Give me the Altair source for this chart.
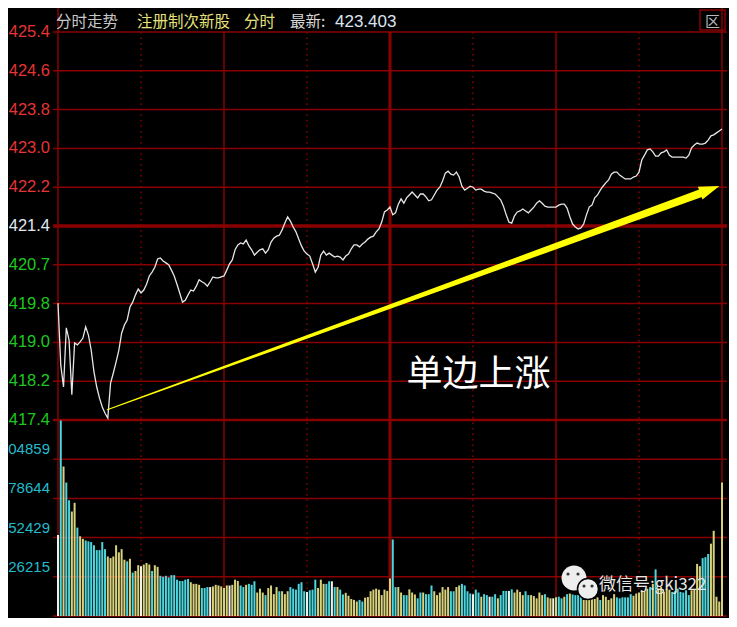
import altair as alt
import pandas as pd

# ---------------- data ----------------
price = [
    419.81, 418.53, 418.08, 419.30, 419.05, 417.92, 418.99, 418.95, 419.01, 419.09,
    419.32, 419.15, 418.84, 418.39, 418.08, 417.85, 417.67, 417.54, 417.44, 418.16,
    418.37, 418.60, 418.84, 419.19, 419.36, 419.46, 419.73, 419.83, 419.98, 420.10,
    420.02, 420.08, 420.20, 420.37, 420.45, 420.55, 420.72, 420.74, 420.68, 420.64,
    420.60, 420.49, 420.37, 420.20, 420.02, 419.83, 419.87, 419.98, 420.08, 420.06,
    420.16, 420.29, 420.25, 420.22, 420.16, 420.25, 420.35, 420.33, 420.33, 420.35,
    420.37, 420.49, 420.62, 420.70, 420.91, 421.01, 421.05, 421.03, 421.11, 420.99,
    420.91, 420.80, 420.86, 420.91, 420.93, 420.84, 420.91, 421.07, 421.15, 421.19,
    421.21, 421.32, 421.46, 421.59, 421.50, 421.38, 421.28, 421.13, 420.99, 420.88,
    420.82, 420.78, 420.62, 420.45, 420.55, 420.80, 420.88, 420.80, 420.84, 420.80,
    420.76, 420.78, 420.76, 420.70, 420.78, 420.82, 420.93, 421.01, 421.01, 420.97,
    421.03, 421.07, 421.13, 421.17, 421.19, 421.28, 421.34, 421.48, 421.69, 421.73,
    421.79, 421.63, 421.67, 421.85, 421.96, 421.87, 421.98, 422.04, 422.10, 422.04,
    421.98, 422.06, 422.06, 422.00, 421.92, 421.94, 422.04, 422.14, 422.20, 422.33,
    422.49, 422.53, 422.47, 422.45, 422.51, 422.41, 422.22, 422.14, 422.18, 422.22,
    422.20, 422.14, 422.16, 422.16, 422.12, 422.10, 422.10, 422.08, 422.06, 422.00,
    421.94, 421.81, 421.63, 421.48, 421.46, 421.61, 421.69, 421.71, 421.75, 421.71,
    421.67, 421.73, 421.79, 421.87, 421.92, 421.87, 421.81, 421.79, 421.79, 421.79,
    421.79, 421.83, 421.85, 421.85, 421.77, 421.59, 421.44, 421.38, 421.34, 421.36,
    421.44, 421.63, 421.79, 421.83, 421.98, 422.04, 422.14, 422.22, 422.29, 422.35,
    422.47, 422.51, 422.51, 422.45, 422.41, 422.37, 422.37, 422.37, 422.41, 422.43,
    422.51, 422.76, 422.86, 422.97, 422.99, 422.93, 422.84, 422.84, 422.91, 422.93,
    422.97, 422.86, 422.82, 422.82, 422.82, 422.82, 422.82, 422.80, 422.86, 423.01,
    423.07, 423.11, 423.09, 423.09, 423.11, 423.17, 423.26, 423.28, 423.32, 423.36,
    423.40,
]

volume = [
    54180, 130720, 99975, 89225, 77400, 69875, 75680, 59125, 53320, 51600,
    50525, 49880, 49450, 47300, 44075, 44075, 49450, 44720, 39775, 38700,
    39775, 47300, 42570, 44720, 37625, 36550, 38270, 29025, 30100, 33970,
    33325, 34400, 35475, 34400, 30100, 33970, 32895, 26875, 26230, 26875,
    25800, 27305, 27305, 24295, 23435, 23435, 24295, 24725, 22575, 21500,
    21500, 20855, 18705, 18705, 19350, 19350, 19780, 20855, 20425, 19780,
    18705, 20425, 20425, 20855, 24295, 23435, 20425, 19350, 20855, 21500,
    20855, 23220, 15695, 18275, 15695, 13975, 18705, 20425, 14620, 19350,
    16555, 16555, 14620, 16555, 19350, 18275, 17630, 21500, 22575, 16555,
    16125, 17200, 17630, 24295, 18705, 24295, 21500, 21500, 23220, 23220,
    19350, 19350, 17630, 14405, 15480, 13545, 11395, 10750, 9675, 10750,
    9675, 12255, 12685, 16555, 17630, 18275, 17630, 13975, 17630, 16770,
    25155, 51170, 19350, 19350, 15695, 13975, 13975, 17845, 15695, 14405,
    11825, 15695, 15695, 14620, 14620, 20425, 16555, 13975, 15695, 19350,
    17630, 19350, 16555, 16555, 19350, 20425, 21500, 20425, 16555, 15050,
    14620, 17630, 15695, 12900, 14620, 13975, 12900, 12900, 14620, 11825,
    13975, 16770, 16770, 16770, 17845, 15695, 17630, 16125, 13975, 16555,
    13975, 13975, 13330, 11825, 15695, 13975, 14620, 12470, 11825, 11825,
    12470, 12900, 11825, 12900, 14620, 15050, 14405, 13975, 13975, 13975,
    10750, 10750, 10750, 11825, 11395, 12470, 10750, 13975, 12900, 10750,
    11825, 14620, 12470, 11825, 12470, 12470, 12470, 14620, 13545, 15050,
    15695, 17200, 16125, 18275, 19350, 21500, 31175, 18275, 19350, 16125,
    18275, 17630, 16125, 16555, 18275, 16125, 15695, 17200, 13975, 17200,
    17630, 34830, 33325, 38700, 39345, 41495, 48375, 56975, 12900, 9675,
    89225,
]

# c = cyan bar, y = yellow bar, w = white bar
bar_side = list(
    "wcyccyycyy" "ccccccccyy" "yyyyycycyy" "wyyycyyccc" "ccccccccyy"
    "yycccwyyyy" "yywyyyccyc" "ccyyycyyyy" "cyyycccccc" "wcccyyyccw"
    "cyccyyyyyc" "cyyyyyyyyy" "yccyyccyyy" "ccycccyyyy" "yyccyycccc"
    "wccyccwccy" "cccwcyyyyc" "cyyyyycyyw" "yccycycccc" "yyyyyycyyy"
    "yyccccccyy" "yyyycycyyy" "yycccccccy" "yyycccyyyy" "y"
)
minutes = list(range(len(price)))
assert len(price) == len(volume) == len(bar_side) == 241

price_ticks = [425.4, 424.6, 423.8, 423.0, 422.2, 421.4, 420.6, 419.8, 419.0, 418.2, 417.4]
price_tick_labels = ["425.4", "424.6", "423.8", "423.0", "422.2", "421.4",
                     "420.7", "419.8", "419.0", "418.2", "417.4"]
prev_close = 421.4
vol_grid = [0, 26214.4, 52428.8, 78643.2, 104857.6, 131072]
vol_label_values = [26214.4, 52428.8, 78643.2, 104857.6]
vol_tick_labels = ["26215", "52429", "78644", "04859"]   # as visible (left digit cut off in the source)
time_dotted = [30, 90, 150, 210]
time_solid = [60, 180]
time_center = [120]
time_border = [0, 240]

header_parts = ["分时走势", "注册制次新股", "分时", "最新:"]
latest_price = 423.403
annotation_text = ["单边上涨"]
annotation_minute = [152]
annotation_price = [418.33]
arrow_minutes = [17.8, 232.5]
arrow_prices = [417.61, 422.08]
arrow_tip_minute = [235.6]
arrow_tip_price = [422.15]
watermark = ["微信号:gkj322"]
close_glyph = ["区"]

# ---------------- styling / layout ----------------
W, PH, VH = 674, 388, 196
GRID = "#8a0000"
CYAN, YEL, WHITE = "#4dd6de", "#d9d27c", "#f2f2e4"
RED_TXT, MID_TXT, GREEN_TXT, VOL_TXT = "#e43434", "#e2e8f0", "#1ec81e", "#22bccc"
CJK = "Noto Sans CJK SC"
NUM = "Liberation Sans"

xs = alt.Scale(domain=[0, 240], range=[0, W], nice=False, zero=False)
yp = alt.Scale(domain=[417.4, 425.4], range=[PH, 0], nice=False, zero=False)
yv = alt.Scale(domain=[0, 131072], range=[PH + VH, PH], nice=False, zero=False)


def X(field="m"):
    return alt.X(f"{field}:Q", scale=xs, axis=None)


def YP(field="p"):
    return alt.Y(f"{field}:Q", scale=yp, axis=None)


def YV(field="v"):
    return alt.Y(f"{field}:Q", scale=yv, axis=None)


one = pd.DataFrame({"a": [0]})
df = pd.DataFrame({"m": minutes, "p": price, "v": volume, "s": bar_side})

df_pt = pd.DataFrame({"p": price_ticks, "lab": price_tick_labels})
df_pt["col"] = [RED_TXT if p > prev_close + 1e-9 else (MID_TXT if abs(p - prev_close) < 1e-9 else GREEN_TXT)
                for p in price_ticks]

price_grid = alt.Chart(df_pt).mark_rule(color=GRID, strokeWidth=1.5).encode(y=YP())
mid_line = alt.Chart(pd.DataFrame({"p": [prev_close]})).mark_rule(color=GRID, strokeWidth=3.5).encode(y=YP())
bottom_line = alt.Chart(pd.DataFrame({"p": [price_ticks[-1]]})).mark_rule(color=GRID, strokeWidth=2.5).encode(y=YP())
vol_lines = alt.Chart(pd.DataFrame({"v": vol_grid})).mark_rule(color=GRID, strokeWidth=1.5).encode(y=YV())

v_dot = alt.Chart(pd.DataFrame({"m": time_dotted})).mark_rule(
    color=GRID, strokeWidth=1.5, strokeDash=[1.5, 4]).encode(x=X())
v_solid = alt.Chart(pd.DataFrame({"m": time_solid})).mark_rule(color=GRID, strokeWidth=1.5).encode(x=X())
v_center = alt.Chart(pd.DataFrame({"m": time_center})).mark_rule(color=GRID, strokeWidth=3).encode(x=X())
v_border = alt.Chart(pd.DataFrame({"m": time_border})).mark_rule(color=GRID, strokeWidth=1.5).encode(
    x=X(), y=alt.value(-24), y2=alt.value(PH + VH))

bars = alt.Chart(df).mark_bar(size=2).encode(
    x=X(), y=YV(),
    color=alt.Color("s:N", scale=alt.Scale(domain=["c", "y", "w"], range=[CYAN, YEL, WHITE]), legend=None),
)
line = alt.Chart(df).mark_line(color="#e6e6e6", strokeWidth=1.3).encode(x=X(), y=YP())

trail = alt.Chart(pd.DataFrame({"m": arrow_minutes, "p": arrow_prices})).mark_trail(color="#ffff00").encode(
    x=X(), y=YP(),
    size=alt.Size("m:Q", scale=alt.Scale(domain=arrow_minutes, range=[1, 8], zero=False), legend=None),
)
head = alt.Chart(pd.DataFrame({"m": arrow_tip_minute, "p": arrow_tip_price})).mark_point(
    shape="M1,0L-1,-0.65L-1,0.65Z", filled=True, color="#ffff00", size=420, angle=340, opacity=1
).encode(x=X(), y=YP())
ann = alt.Chart(pd.DataFrame({"m": annotation_minute, "p": annotation_price, "t": annotation_text})).mark_text(
    font=CJK, fontSize=36, color="#ffffff", baseline="middle", align="center"
).encode(x=X(), y=YP(), text="t:N")

p_labels = alt.Chart(df_pt).mark_text(align="right", baseline="middle", font=NUM, fontSize=16.5).encode(
    x=alt.value(-3), y=YP(), text="lab:N", color=alt.Color("col:N", scale=None))
v_labels = alt.Chart(pd.DataFrame({"v": vol_label_values, "lab": vol_tick_labels})).mark_text(
    align="right", baseline="bottom", font=NUM, fontSize=15, color=VOL_TXT, dy=-2
).encode(x=alt.value(-3), y=YV(), text="lab:N")


def header(text, x, color, font=CJK, size=15.5):
    return alt.Chart(pd.DataFrame({"t": [text]})).mark_text(
        align="left", baseline="middle", font=font, fontSize=size, color=color
    ).encode(x=alt.value(x), y=alt.value(-10), text="t:N")


h1 = header(header_parts[0], 3, "#c8c8c8")
h2 = header(header_parts[1], 84, "#e6e07a")
h3 = header(header_parts[2], 191, "#e6e07a")
h4 = header(header_parts[3], 237, "#d8d8d8")
h5 = header(f"{latest_price:.3f}", 282, "#dce6f0", font=NUM, size=17)

box = alt.Chart(one).mark_rect(fillOpacity=0, stroke=GRID, strokeWidth=1.5).encode(
    x=alt.value(647), x2=alt.value(672), y=alt.value(-22), y2=alt.value(-2))
glyph = alt.Chart(pd.DataFrame({"t": close_glyph})).mark_text(
    font=CJK, fontSize=15, color="#b8b8b8", align="center", baseline="middle"
).encode(x=alt.value(659.5), y=alt.value(-10), text="t:N")

bubble1 = alt.Chart(one).mark_point(shape="circle", filled=True, color="#eeeeee", size=620, opacity=1).encode(
    x=alt.value(521), y=alt.value(546))
bubble2 = alt.Chart(one).mark_point(shape="circle", filled=True, fill="#eeeeee", stroke="#000000",
                                    strokeWidth=1.5, size=440, opacity=1).encode(
    x=alt.value(535), y=alt.value(557))
eyes = alt.layer(*[
    alt.Chart(one).mark_point(shape="circle", filled=True, color="#333333", size=10, opacity=1).encode(
        x=alt.value(ex), y=alt.value(ey))
    for ex, ey in [(515, 542), (525, 542), (531, 554), (539, 554)]
])
wm = alt.Chart(pd.DataFrame({"t": watermark})).mark_text(
    font=CJK, fontSize=17, color="#e6e6e6", align="left", baseline="middle"
).encode(x=alt.value(546), y=alt.value(553), text="t:N")

chart = alt.layer(
    price_grid, vol_lines, v_dot, v_solid, v_center, v_border, mid_line, bottom_line,
    bars, line, trail, head, ann, p_labels, v_labels,
    h1, h2, h3, h4, h5, box, glyph, bubble1, bubble2, eyes, wm,
).resolve_scale(y="independent", color="independent", size="independent").properties(
    width=W, height=PH + VH,
    autosize=alt.AutoSizeParams(type="none"),
    padding={"left": 45, "top": 24, "right": 2, "bottom": 2},
    background="#000000",
).configure_view(strokeWidth=0)

chart.save("out.html", embed_options={"renderer": "svg", "actions": False})
